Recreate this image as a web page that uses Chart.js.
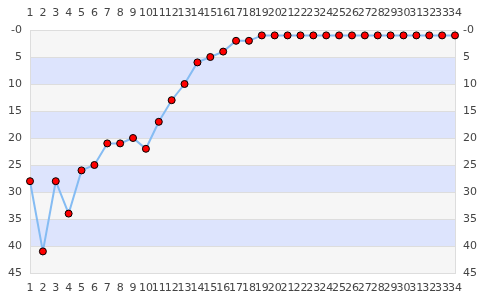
<!DOCTYPE html>
<html>
<head>
<meta charset="utf-8">
<script src="https://cdn.jsdelivr.net/npm/chart.js@4"></script>
<style>
  html, body { margin: 0; padding: 0; background: #fff; }
  #wrap { width: 485px; height: 300px; }
</style>
</head>
<body>
<div id="wrap"><canvas id="chart" width="485" height="300"></canvas></div>
<script>
const labels = [];
for (let i = 1; i <= 34; i++) labels.push(String(i));
const positions = [28, 41, 28, 34, 26, 25, 21, 21, 20, 22, 17, 13, 10, 6, 5, 4, 2, 2,
  1, 1, 1, 1, 1, 1, 1, 1, 1, 1, 1, 1, 1, 1, 1, 1];
const yTicks = [0, 5, 10, 15, 20, 25, 30, 35, 40, 45];
const bandColors = ["#f6f6f6", "#dde4fd"];

const bands = {
  id: "bands",
  beforeDraw(chart) {
    const { ctx, chartArea: a, scales } = chart;
    const y = scales.y;
    ctx.save();
    for (let i = 0; i < yTicks.length - 1; i++) {
      const y1 = y.getPixelForValue(yTicks[i]);
      const y2 = y.getPixelForValue(yTicks[i + 1]);
      ctx.fillStyle = bandColors[i % 2];
      ctx.fillRect(a.left, y1, a.right - a.left, y2 - y1);
    }
    ctx.restore();
  }
};

const tickFont = { family: "DejaVu Sans", size: 11 };
const tickColor = "#444";
const fmt = v => (v === 0 ? "-0" : String(v));

function xAxis(pos, h, pad) {
  return {
    position: pos,
    type: "category",
    offset: false,
    grid: { display: false, drawTicks: false },
    border: { display: false },
    ticks: { autoSkip: false, maxRotation: 0, minRotation: 0, padding: pad, font: tickFont, color: tickColor },
    afterFit(s) { s.height = h; }
  };
}
function yAxis(pos) {
  return {
    position: pos,
    reverse: true,
    min: 0, max: 45,
    afterBuildTicks(s) { s.ticks = yTicks.map(v => ({ value: v })); },
    grid: { color: "#dddddd", drawTicks: false, lineWidth: 1 },
    border: { display: true, color: "#dddddd" },
    ticks: { padding: 8, font: tickFont, color: tickColor, callback: fmt },
    afterFit(s) { s.width = 30; }
  };
}

new Chart(document.getElementById("chart"), {
  type: "line",
  data: {
    labels: labels,
    datasets: [{
      data: positions,
      borderColor: "#85bcf3",
      borderWidth: 2,
      pointBackgroundColor: "#ff0000",
      pointBorderColor: "#000000",
      pointBorderWidth: 1,
      pointRadius: 3.5,
      tension: 0,
      clip: false,
      xAxisID: "x",
      yAxisID: "y"
    }]
  },
  options: {
    responsive: false,
    animation: false,
    layout: { padding: 0 },
    plugins: { legend: { display: false }, tooltip: { enabled: false } },
    scales: {
      x: xAxis("bottom", 27, 9),
      x2: Object.assign(xAxis("top", 30, 10), { labels: labels }),
      y: yAxis("left"),
      y2: Object.assign(yAxis("right"), { grid: { display: false, drawTicks: false } })
    }
  },
  plugins: [bands]
});
</script>
</body>
</html>
